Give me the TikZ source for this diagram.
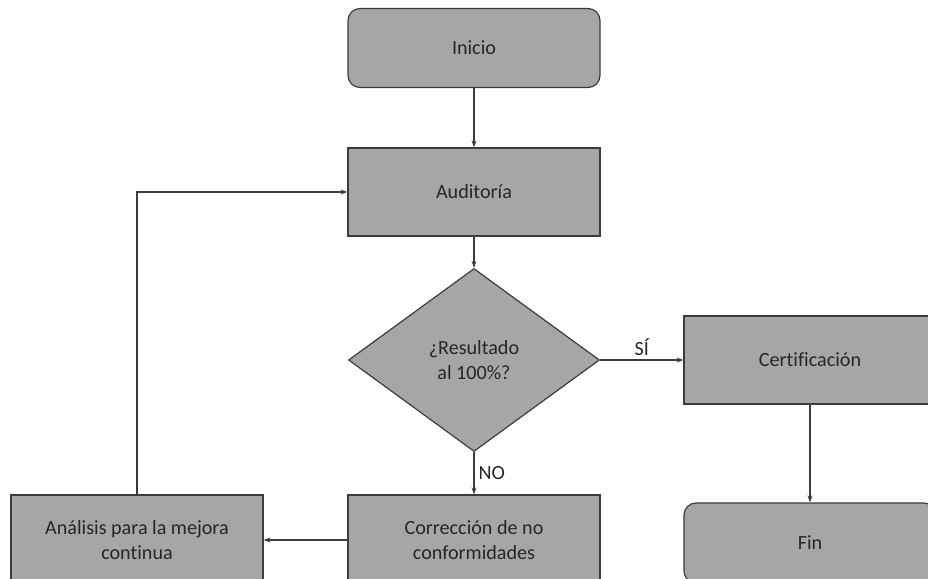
\documentclass[tikz,border=0pt]{standalone}
\usepackage{fontspec}
\setmainfont[Ligatures=NoCommon]{Carlito}
\usetikzlibrary{shapes.geometric,arrows.meta}
\definecolor{boxfill}{HTML}{A6A6A6}
\definecolor{linec}{HTML}{3C3C3C}
\definecolor{textc}{HTML}{262626}
\begin{document}
\begin{tikzpicture}[x=1bp,y=-1bp,
  base/.style={draw=linec, fill=boxfill, line width=1.2bp, inner sep=0pt,
    align=center, text=textc, font=\fontsize{20.2}{24.5}\selectfont},
  stepbox/.style={base, rectangle, minimum width=252bp, minimum height=88bp},
  termbox/.style={stepbox, rounded corners=12bp, minimum height=79bp},
  decision/.style={base, diamond, minimum width=251bp, minimum height=183bp},
  arr/.style={draw=linec, line width=1.2bp, -{Stealth[length=7bp,width=5bp]}},
  lbl/.style={text=textc, font=\fontsize{20.2}{24.5}\selectfont, inner sep=2bp}]
\useasboundingbox (0,0) rectangle (928,579);
\clip (0,0) rectangle (928,579);

% process nodes
\node[termbox] (ini) at (474,48) {Inicio};
\node[stepbox] (aud) at (474,192) {Auditoría};
\node[decision] (dec) at (474,360) {¿Resultado\\al 100\%?};
\node[stepbox] (cert) at (810,360) {Certificación};
\node[termbox, minimum height=80bp] (fin) at (810,543) {Fin};
\node[stepbox, minimum height=90bp] (cor) at (474,540) {Corrección de no\\conformidades};
\node[stepbox, minimum height=90bp] (ana) at (137,540) {Análisis para la mejora\\continua};

% connectors
\draw[arr] (ini) -- (aud);
\draw[arr] (aud) -- (dec);
\draw[arr] (dec) -- node[lbl, above=2bp] {SÍ} (cert);
\draw[arr] (dec) -- node[lbl, right=2bp] {NO} (cor);
\draw[arr] (cert) -- (fin);
\draw[arr] (cor) -- (ana);
\draw[arr] (ana.north) |- (aud.west);
\end{tikzpicture}
\end{document}
